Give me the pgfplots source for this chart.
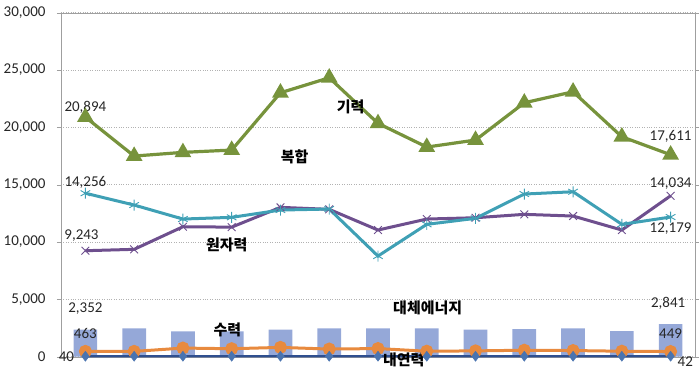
\documentclass[border=0pt]{standalone}
\usepackage{pgfplots}
\pgfplotsset{compat=1.18}
\usepackage{fontspec}
\setmainfont{Carlito}
\newfontfamily\kr{Noto Sans CJK KR}
\definecolor{cGreen}{HTML}{77933C}
\definecolor{cTeal}{HTML}{3FA0B5}
\definecolor{cPurple}{HTML}{6E4F8E}
\definecolor{cOrange}{HTML}{E88A3E}
\definecolor{cBar}{HTML}{95A8D8}
\definecolor{cDia}{HTML}{4A74B0}
\definecolor{cDiaLine}{HTML}{2F4F8F}
\begin{document}
\begin{tikzpicture}
\useasboundingbox (-61pt,-13.3pt) rectangle (638pt,356.7pt);
\begin{axis}[
  at={(0,0)}, anchor=south west,
  scale only axis, width=634pt, height=344pt,
  xmin=-0.5, xmax=12.5, ymin=0, ymax=30000,
  xtick=\empty,
  ytick={0,5000,10000,15000,20000,25000,30000},
  scaled y ticks=false,
  /pgf/number format/.cd, 1000 sep={,}, assume math mode=true, /pgfplots/.cd,
  yticklabel style={font=\fontsize{15}{17}\selectfont, text=black!85, xshift=-8pt},
  ymajorgrids, grid style={gray!60, dotted, line width=0.7pt},
  axis line style={gray!75},
  ytick style={gray!75}, tick align=outside, major tick length=4pt,
  clip=false,
]
\addplot[ybar, bar width=23.7pt, fill=cBar, draw=none] coordinates {
(0,2352) (1,2468) (2,2207) (3,2207) (4,2352) (5,2468) (6,2468) (7,2468) (8,2352) (9,2410) (10,2468) (11,2236) (12,2841)};
\addplot[cOrange, line width=3pt, mark=*, mark size=5pt, mark options={fill=cOrange, draw=cOrange}] coordinates {
(0,463) (1,463) (2,753) (3,695) (4,811) (5,666) (6,710) (7,478) (8,507) (9,565) (10,536) (11,478) (12,449)};
\addplot[cDiaLine, line width=2.2pt, mark=diamond*, mark size=5pt, mark options={fill=cDia, draw=cDia, line width=0.5pt}] coordinates {
(0,40) (1,40) (2,40) (3,40) (4,40) (5,40) (6,40) (7,40) (8,40) (9,40) (10,40) (11,40) (12,42)};
\addplot[cPurple, line width=3pt, mark=x, mark size=5.5pt, mark options={draw=cPurple, line width=0.9pt}] coordinates {
(0,9243) (1,9363) (2,11334) (3,11300) (4,13025) (5,12851) (6,11046) (7,12005) (8,12119) (9,12415) (10,12267) (11,11046) (12,14034)};
\addplot[cTeal, line width=3pt, mark=asterisk, mark size=5.5pt, mark options={draw=cTeal, line width=0.9pt}] coordinates {
(0,14256) (1,13226) (2,12005) (3,12153) (4,12790) (5,12877) (6,8779) (7,11543) (8,12066) (9,14185) (10,14385) (11,11543) (12,12179)};
\addplot[cGreen, line width=3.2pt, mark=triangle*, mark size=6.5pt, mark options={fill=cGreen, draw=cGreen}] coordinates {
(0,20894) (1,17498) (2,17820) (3,18021) (4,23017) (5,24325) (6,20349) (7,18283) (8,18893) (9,22145) (10,23104) (11,19180) (12,17611)};
% data labels
\begin{scope}[every node/.style={font=\fontsize{15}{17}\selectfont, text=black!85, inner sep=0pt}]
\node at (axis cs:0,21745) {20,894};
\node at (axis cs:0,15200) {14,256};
\node at (axis cs:-0.08,10520) {9,243};
\node at (axis cs:0,4220) {2,352};
\node at (axis cs:0,2040) {463};
\node at (axis cs:-0.39,0) {40};
\node at (axis cs:12,19240) {17,611};
\node at (axis cs:12,15120) {14,034};
\node at (axis cs:12,11190) {12,179};
\node at (axis cs:11.95,4650) {2,841};
\node at (axis cs:12,2040) {449};
\node at (axis cs:12.3,-440) {42};
\end{scope}
\begin{scope}[every node/.style={font=\kr\bfseries\fontsize{15}{17}\selectfont, inner sep=0pt}]
\node at (axis cs:5.44,21770) {기력};
\node at (axis cs:4.29,17420) {복합};
\node at (axis cs:2.9,9740) {원자력};
\node at (axis cs:7.02,4250) {대체에너지};
\node at (axis cs:2.91,2330) {수력};
\node at (axis cs:6.53,-290) {내연력};
\end{scope}
\end{axis}
\end{tikzpicture}
\end{document}
